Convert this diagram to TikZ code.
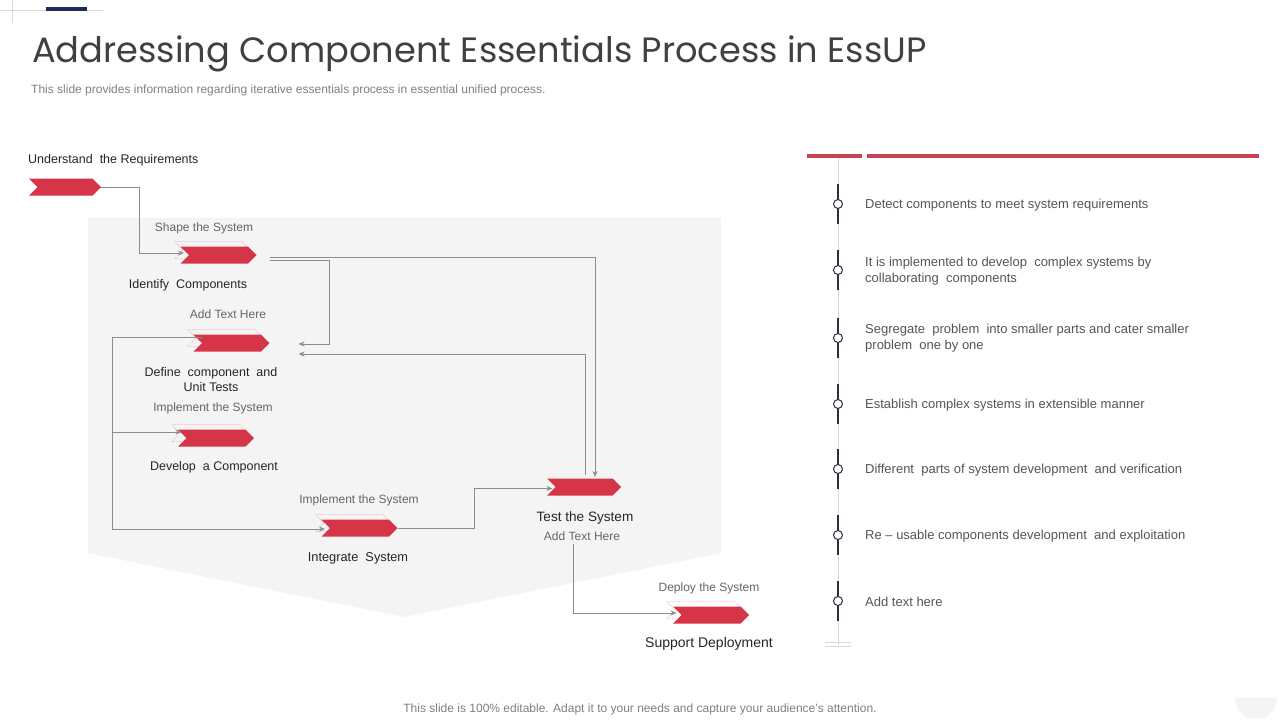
\documentclass[tikz,border=0pt]{standalone}
\usepackage{fontspec}
\setmainfont{Liberation Sans}
\newfontfamily\titlefont{Poppins}
\usetikzlibrary{shapes.symbols,arrows.meta,calc}
\definecolor{chevred}{HTML}{D63447}
\definecolor{barred}{HTML}{C94152}
\definecolor{navy}{HTML}{1F2A5C}
\definecolor{tlnavy}{HTML}{2B2D42}
\definecolor{bggray}{HTML}{F4F4F4}
\definecolor{linegray}{HTML}{8C8C8C}
\definecolor{thingray}{HTML}{D9D9D9}
\definecolor{darktxt}{HTML}{262626}
\definecolor{subtxt}{HTML}{666666}
\definecolor{listtxt}{HTML}{555555}
\definecolor{titletxt}{HTML}{404040}
\tikzset{
  chev/.style={signal, signal to=east, signal from=west, fill=chevred, draw=none,
    minimum width=76pt, minimum height=17pt, inner sep=0pt, outer sep=0pt},
  ghost/.style={signal, signal to=east, signal from=west, fill=none, draw=chevred!60,
    densely dotted, line width=0.5pt, minimum width=76pt, minimum height=17pt, inner sep=0pt},
  conn/.style={draw=linegray, line width=0.8pt},
  arr/.style={conn, -{Stealth[length=6pt,width=5pt]}},
  lab/.style={font=\fontsize{12.5}{15.5}\selectfont, text=darktxt, align=center, inner sep=0pt},
  sub/.style={font=\fontsize{12}{14}\selectfont, text=subtxt, align=center, inner sep=0pt},
  item/.style={font=\fontsize{13}{16}\selectfont, text=listtxt, align=left, anchor=west, inner sep=0pt},
  dot/.style={circle, draw=tlnavy, fill=white, line width=1pt, minimum size=9pt, inner sep=0pt}
}
\begin{document}
\begin{tikzpicture}[x=1pt,y=-1pt]
\useasboundingbox (0,0) rectangle (1280,720);
\fill[white] (0,0) rectangle (1280,720);

% top-left decoration
\draw[thingray, line width=0.6pt] (0,10) -- (103,10);
\draw[thingray, line width=0.6pt] (12.5,0) -- (12.5,23);
\fill[navy] (46,7) rectangle (87,11);

% title
\node[anchor=base west, inner sep=0pt, text=titletxt, font=\titlefont\fontsize{35.2}{40}\selectfont] (title) at (32,62) {Addressing Component Essentials Process in EssUP};
\node[anchor=west, inner sep=0pt, text=gray, font=\fontsize{12}{14}\selectfont] (subtitle) at (31,90) {This slide provides information regarding iterative essentials process in essential unified process.};

% background shape
\fill[bggray] (88,218) -- (721,218) -- (721,553) -- (404,617) -- (88,553) -- cycle;

% ghosts
\node[ghost] (g1) at (212.5,250) {};
\node[ghost] (g2) at (225.5,338) {};
\node[ghost] (g3) at (210,433) {};
\node[ghost] (g4) at (353.5,523) {};
\node[ghost] (g6) at (705,610) {};

% chevrons
\node[chev, minimum width=72pt] (a0) at (65,187) {};
\node[chev] (a1) at (218.5,255) {};
\node[chev] (a2) at (231.5,343) {};
\node[chev] (a3) at (216,438) {};
\node[chev] (a4) at (359.5,528) {};
\node[chev, minimum width=74pt] (a5) at (584,487) {};
\node[chev] (a6) at (711,615) {};

% labels
\node[lab, anchor=west] (lund) at (28,160.5) {Understand\ \ the Requirements};
\node[sub] (l1a) at (204,228.5) {Shape the System};
\node[lab] (l1b) at (188,285.5) {Identify\ \ Components};
\node[sub] (l2a) at (228,314.5) {Add Text Here};
\node[lab] (l2b) at (211,379.5) {Define\ \ component\ \ and\\Unit Tests};
\node[sub] (l3a) at (213,408.5) {Implement the System};
\node[lab] (l3b) at (214,467.5) {Develop\ \ a Component};
\node[sub] (l4a) at (359,500.5) {Implement the System};
\node[lab, font=\fontsize{12.8}{15.5}\selectfont] (l4b) at (358,558.5) {Integrate\ \ System};
\node[lab, font=\fontsize{13.6}{16}\selectfont] (l5b) at (585,517.5) {Test the System};
\node[sub] (l5a) at (582,536.5) {Add Text Here};
\node[sub] (l6a) at (709,588.5) {Deploy the System};
\node[lab, font=\fontsize{14}{16}\selectfont] (l6b) at (709,643.5) {Support Deployment};

% connectors
\coordinate (k1) at (139,187);
\draw[arr] (a0.east) -- (k1) |- ($(a1.west)+(-5,-2)$);
\draw[arr] ($(a1.east)+(13,2)$) -| ($(a5.north)+(11,-1.5)$);
\draw[arr] ($(a1.east)+(13,5)$) -- (329,260) |- ($(a2.east)+(29,1)$);
\draw[arr] ($(a5.north)+(1,-4)$) |- ($(a2.east)+(29,11)$);
\coordinate (k2) at (112,337);
\draw[conn] ($(g2.west)+(6,-1)$) -- (k2) -- (112,529);
\draw[arr] (112,432) -- ($(a3.west)+(-5,-6)$);
\draw[arr] (112,529) -- ($(a4.west)+(-5,1)$);
\draw[arr] (a4.east) -- (474,528) |- ($(a5.west)+(-3,1.5)$);
\coordinate (k3) at (573,544);
\draw[arr] (k3) |- ($(a6.west)+(-5,-2)$);

% right panel
\draw[barred, line width=4pt] (807,156) -- (862,156);
\draw[barred, line width=4pt] (867,156) -- (1259,156);
\draw[thingray, line width=1pt] (838,158) -- (838,645);
\draw[thingray, line width=0.8pt] (825,642) -- (851,642);
\draw[thingray, line width=0.8pt] (825,646) -- (851,646);
\foreach \yy/\nm in {204/d1,270/d2,338/d3,404/d4,469/d5,535/d6,601/d7}{
  \draw[tlnavy, line width=2.5pt] (838,\yy-20) -- (838,\yy+20);
  \node[dot] (\nm) at (838,\yy) {};
}
\node[item] (t1) at (865,205.5) {Detect components to meet system requirements};
\node[item] (t2) at (865,271.5) {It is implemented to develop\ \ complex systems by\\collaborating\ \ components};
\node[item] (t3) at (865,338.5) {Segregate\ \ problem\ \ into smaller parts and cater smaller\\problem\ \ one by one};
\node[item] (t4) at (865,405.5) {Establish complex systems in extensible manner};
\node[item] (t5) at (865,470.5) {Different\ \ parts of system development\ \ and verification};
\node[item] (t6) at (865,536.5) {Re -- usable components development\ \ and exploitation};
\node[item] (t7) at (865,601.5) {Add text here};

% footer
\node[inner sep=0pt, text=gray, font=\fontsize{12}{14}\selectfont] (foot) at (640,709) {This slide is 100\% editable. Adapt it to your needs and capture your audience’s attention.};
\begin{scope}
\clip (1230,698) rectangle (1285,720);
\fill[bggray] (1256,698) circle (21);
\end{scope}
\end{tikzpicture}
\end{document}
